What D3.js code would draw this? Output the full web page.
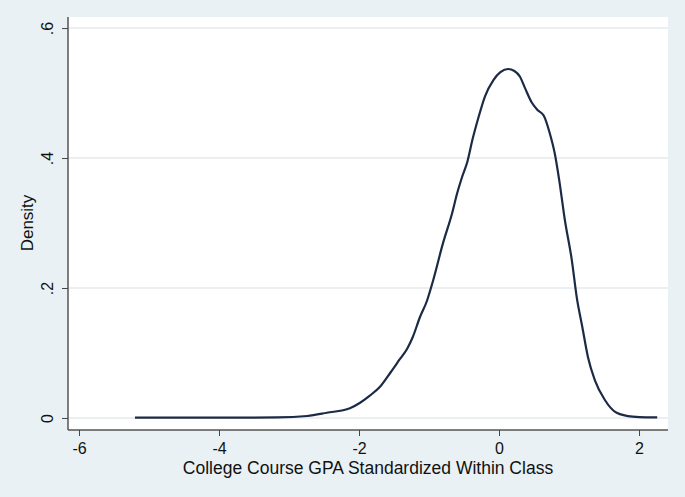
<!DOCTYPE html>
<html>
<head>
<meta charset="utf-8">
<script src="https://d3js.org/d3.v7.min.js"></script>
<style>
  body { margin: 0; background: #e9f1f4; }
  text { font-family: "Liberation Sans", Arial, sans-serif; fill: #111; }
</style>
</head>
<body>
<div id="chart"></div>
<script>
// density curve
var gpa = [-5.2, -4.5, -3.8, -3.17, -2.74, -2.46, -2.13, -1.99, -1.85, -1.7, -1.55, -1.42, -1.31, -1.23, -1.13, -1.03, -0.94, -0.8, -0.67, -0.6, -0.53, -0.45, -0.38, -0.3, -0.2, -0.08, 0.02, 0.13, 0.22, 0.3, 0.37, 0.47, 0.55, 0.64, 0.72, 0.8, 0.86, 0.94, 1.04, 1.11, 1.19, 1.27, 1.37, 1.51, 1.68, 1.91, 2.1, 2.26];
var density = [0.0005, 0.0005, 0.0005, 0.0008, 0.003, 0.008, 0.015, 0.023, 0.034, 0.048, 0.07, 0.09, 0.107, 0.125, 0.155, 0.18, 0.212, 0.269, 0.315, 0.345, 0.37, 0.395, 0.428, 0.46, 0.495, 0.52, 0.532, 0.537, 0.534, 0.525, 0.508, 0.485, 0.474, 0.465, 0.44, 0.405, 0.366, 0.305, 0.243, 0.186, 0.14, 0.094, 0.058, 0.028, 0.008, 0.002, 0.001, 0.001];
var xTicks = [-6, -4, -2, 0, 2];
var yTicks = [0, 0.2, 0.4, 0.6];
var yTickLabels = ["0", ".2", ".4", ".6"];

var W = 685, H = 497;
var margin = {top: 17, right: 17, bottom: 67, left: 68};
var width = W - margin.left - margin.right,
    height = H - margin.top - margin.bottom;

var svg = d3.select("#chart").append("svg")
    .attr("width", W)
    .attr("height", H);

svg.append("rect")
  .attr("width", W).attr("height", H)
  .style("fill", "#e9f1f4");

var g = svg.append("g")
  .attr("transform", "translate(" + margin.left + "," + margin.top + ")");

var x = d3.scaleLinear().domain([-6.157, 2.414]).range([0, width]);
var y = d3.scaleLinear().domain([-0.0185, 0.617]).range([height, 0]);

// plot region
g.append("rect")
  .attr("width", width).attr("height", height)
  .style("fill", "#ffffff");

// gridlines
g.selectAll(".grid")
  .data(yTicks)
  .enter().append("line")
    .attr("x1", 0).attr("x2", width)
    .attr("y1", function(d) { return y(d); })
    .attr("y2", function(d) { return y(d); })
    .style("stroke", "#e6eaec")
    .style("stroke-width", 1.5);

// x axis
var xAxis = g.append("g")
  .attr("transform", "translate(0," + height + ")")
  .call(d3.axisBottom(x).tickValues(xTicks).tickSize(6).tickSizeOuter(0).tickPadding(7).tickFormat(d3.format("d")));
xAxis.select(".domain").attr("d", "M0,0H" + width).style("stroke", "#555").style("stroke-width", 1.5);
xAxis.selectAll(".tick line").style("stroke", "#444");
xAxis.selectAll(".tick text")
  .style("font-size", "16px")
  .text(function(d) { return d < 0 ? "-" + Math.abs(d) : d; });

// y axis
var yAxis = g.append("g")
  .call(d3.axisLeft(y).tickValues(yTicks).tickSize(6).tickSizeOuter(0).tickFormat(function(d, i) { return yTickLabels[i]; }));
yAxis.select(".domain").attr("d", "M0,0V" + height).style("stroke", "#555").style("stroke-width", 1.5);
yAxis.selectAll(".tick line").style("stroke", "#444");
yAxis.selectAll(".tick text")
  .style("font-size", "16px")
  .attr("text-anchor", "middle")
  .attr("x", 0).attr("dy", 0)
  .attr("transform", "translate(-15,0) rotate(-90)");

// density line
var line = d3.line()
  .x(function(d, i) { return x(gpa[i]); })
  .y(function(d) { return y(d); })
  .curve(d3.curveMonotoneX);

g.append("path")
  .datum(density)
  .attr("d", line)
  .style("fill", "none")
  .style("stroke", "#1c2b45")
  .style("stroke-width", 2.2);

// axis titles
svg.append("text")
  .attr("x", margin.left + width / 2)
  .attr("y", 474)
  .attr("text-anchor", "middle")
  .style("font-size", "17.5px")
  .text("College Course GPA Standardized Within Class");

svg.append("text")
  .attr("transform", "translate(33," + (margin.top + y(0.3)) + ") rotate(-90)")
  .attr("text-anchor", "middle")
  .style("font-size", "17px")
  .text("Density");
</script>
</body>
</html>
